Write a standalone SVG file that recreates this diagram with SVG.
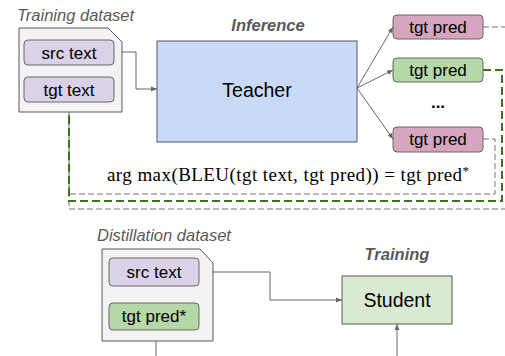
<svg xmlns="http://www.w3.org/2000/svg" width="505" height="356" viewBox="0 0 505 356">
<style>
.title{font-family:"Liberation Sans",Arial,sans-serif;font-size:16.5px;font-style:italic;fill:#595959}
.titleb{font-family:"Liberation Sans",Arial,sans-serif;font-size:16.5px;font-style:italic;font-weight:bold;fill:#595959;text-anchor:middle}
.lbl{font-family:"Liberation Sans",Arial,sans-serif;font-size:17px;fill:#000;text-anchor:middle}
.big{font-family:"Liberation Sans",Arial,sans-serif;font-size:19.5px;fill:#000;text-anchor:middle}
.doc{fill:#f3f3f3;stroke:#595959;stroke-width:1}
.purple{fill:#d9d2e9;stroke:#666;stroke-width:1}
.pink{fill:#d5a6bd;stroke:#666;stroke-width:1}
.green{fill:#b6d7a8;stroke:#666;stroke-width:1}
.conn{fill:none;stroke:#666;stroke-width:1}
.dgray{fill:none;stroke:#757575;stroke-width:1;stroke-dasharray:6 3}
.dgreen{fill:none;stroke:#38761d;stroke-width:2;stroke-dasharray:8 4}
.math{font-family:"Liberation Serif","Times New Roman",serif;font-size:19px;fill:#000}
</style>
<defs>
<marker id="arr" viewBox="0 0 6 6" refX="6" refY="3" markerWidth="6" markerHeight="6" orient="auto" markerUnits="userSpaceOnUse">
<path d="M0,0.5 L6,3 L0,5.5 z" fill="#666"/>
</marker>
</defs>

<g id="connectors">
<path class="dgray" d="M483,27 H512 V209 H69 V102"/>
<path class="dgray" d="M483,139 H495 V194 H69 V102"/>
<path class="dgreen" d="M483,70 H502 V201 H69 V102"/>
<path class="conn" d="M114,52 H136 V89 H157" marker-end="url(#arr)"/>
<path class="conn" d="M357,88 L393,27" marker-end="url(#arr)"/>
<path class="conn" d="M357,88 L393,70" marker-end="url(#arr)"/>
<path class="conn" d="M357,88 L393,139" marker-end="url(#arr)"/>
<path class="conn" d="M199,272 H270 V300 H342" marker-end="url(#arr)"/>
<path class="conn" d="M397,356 V324" marker-end="url(#arr)"/>
<path class="conn" d="M156,330 V356"/>
</g>

<g id="training-dataset">
<text class="title" x="17" y="21">Training dataset</text>
<path class="doc" d="M19,28 H108 L122,42 V112 H19 Z"/>
</g>
<g id="src-text-1">
<rect class="purple" x="24" y="40" width="90" height="25" rx="4"/>
<text class="lbl" x="69" y="58.5">src text</text>
</g>
<g id="tgt-text">
<rect class="purple" x="24" y="77" width="90" height="25" rx="4"/>
<text class="lbl" x="69" y="95.5">tgt text</text>
</g>

<g id="teacher">
<text class="titleb" x="268" y="31">Inference</text>
<rect x="157" y="41" width="200" height="101" fill="#c9daf8" stroke="#595959" stroke-width="1"/>
<text class="big" x="257" y="97">Teacher</text>
</g>

<g id="pred-1">
<rect class="pink" x="393" y="15" width="90" height="24" rx="4"/>
<text class="lbl" x="438" y="33">tgt pred</text>
</g>
<g id="pred-2">
<rect class="green" x="393" y="58" width="90" height="24" rx="4"/>
<text class="lbl" x="438" y="76">tgt pred</text>
</g>
<g id="ellipsis">
<text class="lbl" x="438" y="108" font-weight="bold">...</text>
</g>
<g id="pred-3">
<rect class="pink" x="393" y="127" width="90" height="25" rx="4"/>
<text class="lbl" x="438" y="145">tgt pred</text>
</g>

<g id="formula">
<text class="math" x="107" y="181" textLength="362" lengthAdjust="spacing">arg max(BLEU(tgt text, tgt pred)) = tgt pred<tspan font-size="13" dy="-6">*</tspan></text>
</g>

<g id="distillation-dataset">
<text class="title" x="97" y="241">Distillation dataset</text>
<path class="doc" d="M102,249 H200 L213,263 V341 H102 Z"/>
</g>
<g id="src-text-2">
<rect class="purple" x="109" y="258" width="90" height="28" rx="4"/>
<text class="lbl" x="154" y="278">src text</text>
</g>
<g id="tgt-pred-star">
<rect class="green" x="109" y="303" width="90" height="27" rx="4"/>
<text class="lbl" x="154" y="322">tgt pred*</text>
</g>

<g id="student">
<text class="titleb" x="397" y="260">Training</text>
<rect x="342" y="276" width="110" height="48" fill="#d9ead3" stroke="#595959" stroke-width="1"/>
<text class="big" x="397" y="307">Student</text>
</g>
</svg>
